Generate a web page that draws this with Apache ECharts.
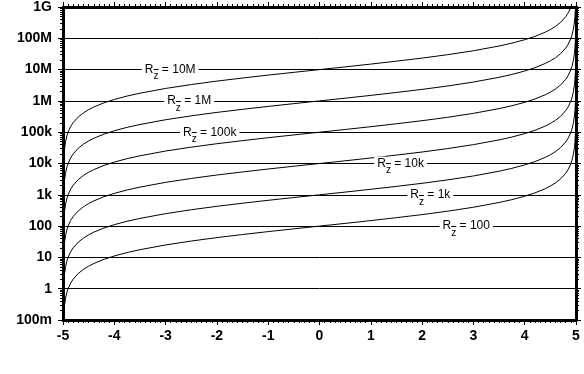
<!DOCTYPE html>
<html>
<head>
<meta charset="utf-8">
<script src="https://cdn.jsdelivr.net/npm/echarts@6/dist/echarts.min.js"></script>
<style>
  html, body { margin: 0; padding: 0; background: #fff; }
  #chart { width: 584px; height: 374px; }
</style>
</head>
<body>
<div id="chart"></div>
<script>
// x positions (shared by every curve)
const xs = [-4.995, -4.99, -4.98, -4.97, -4.95, -4.92, -4.9, -4.85, -4.8, -4.7,
  -4.6, -4.5, -4.4, -4.2, -4, -3.75, -3.5, -3, -2.5, -2,
  -1.5, -1, -0.5, 0, 0.5, 1, 1.5, 2, 2.5, 3,
  3.5, 3.75, 4, 4.2, 4.4, 4.5, 4.6, 4.7, 4.8, 4.85,
  4.9, 4.92, 4.95, 4.97, 4.98, 4.99, 4.995];

// curve values (ohms)
const rz100 = [0.05, 0.1, 0.2, 0.301, 0.503, 0.806, 1.01, 1.52, 2.04, 3.09,
  4.17, 5.26, 6.38, 8.7, 11.1, 14.3, 17.6, 25, 33.3, 42.9,
  53.8, 66.7, 81.8, 100, 122, 150, 186, 233, 300, 400,
  567, 700, 900, 1150, 1570, 1900, 2400, 3230, 4900, 6570,
  9900, 12400, 19900, 33200, 49900, 99900, 199900];
const rz1k = [0.5, 1, 2, 3.01, 5.03, 8.06, 10.1, 15.2, 20.4, 30.9,
  41.7, 52.6, 63.8, 87, 111, 143, 176, 250, 333, 429,
  538, 667, 818, 1000, 1220, 1500, 1860, 2330, 3000, 4000,
  5670, 7000, 9000, 11500, 15700, 19000, 24000, 32300, 49000, 65700,
  99000, 124000, 199000, 332000, 499000, 999000, 1999000];
const rz10k = [5, 10, 20, 30.1, 50.3, 80.6, 101, 152, 204, 309,
  417, 526, 638, 870, 1110, 1430, 1760, 2500, 3330, 4290,
  5380, 6670, 8180, 10000, 12200, 15000, 18600, 23300, 30000, 40000,
  56700, 70000, 90000, 115000, 157000, 190000, 240000, 323000, 490000, 657000,
  990000, 1240000, 1990000, 3320000, 4990000, 9990000, 19990000];
const rz100k = [50, 100, 200, 301, 503, 806, 1010, 1520, 2040, 3090,
  4170, 5260, 6380, 8700, 11100, 14300, 17600, 25000, 33300, 42900,
  53800, 66700, 81800, 100000, 122000, 150000, 186000, 233000, 300000, 400000,
  567000, 700000, 900000, 1150000, 1570000, 1900000, 2400000, 3230000, 4900000, 6570000,
  9900000, 12400000, 19900000, 33200000, 49900000, 99900000, 199900000];
const rz1M = [500, 1000, 2000, 3010, 5030, 8060, 10100, 15200, 20400, 30900,
  41700, 52600, 63800, 87000, 111000, 143000, 176000, 250000, 333000, 429000,
  538000, 667000, 818000, 1e6, 1.22e6, 1.5e6, 1.86e6, 2.33e6, 3e6, 4e6,
  5.67e6, 7e6, 9e6, 1.15e7, 1.57e7, 1.9e7, 2.4e7, 3.23e7, 4.9e7, 6.57e7,
  9.9e7, 1.24e8, 1.99e8, 3.32e8, 4.99e8, 9.99e8, 2e9];
const rz10M = [5e3, 1e4, 2e4, 3.01e4, 5.03e4, 8.06e4, 1.01e5, 1.52e5, 2.04e5, 3.09e5,
  4.17e5, 5.26e5, 6.38e5, 8.7e5, 1.11e6, 1.43e6, 1.76e6, 2.5e6, 3.33e6, 4.29e6,
  5.38e6, 6.67e6, 8.18e6, 1e7, 1.22e7, 1.5e7, 1.86e7, 2.33e7, 3e7, 4e7,
  5.67e7, 7e7, 9e7, 1.15e8, 1.57e8, 1.9e8, 2.4e8, 3.23e8, 4.9e8, 6.57e8,
  9.9e8, 1.24e9, 1.99e9, 3.32e9, 4.99e9, 9.99e9, 2e10];

// curve labels
const curveNames = ['100', '1k', '10k', '100k', '1M', '10M'];
const curveValues = [rz100, rz1k, rz10k, rz100k, rz1M, rz10M];
const labelX = [2.86, 2.16, 1.58, -2.14, -2.54, -2.91];
const labelY = [100, 1000, 10000, 100000, 1000000, 10000000];

// axis tick labels
const yTickValues = [0.1, 1, 10, 100, 1000, 1e4, 1e5, 1e6, 1e7, 1e8, 1e9];
const yTickLabels = ['100m', '1', '10', '100', '1k', '10k', '100k', '1M', '10M', '100M', '1G'];

const minorY = [];
for (let d = -1; d < 9; d++) {
  for (let m = 2; m <= 9; m++) minorY.push(m * Math.pow(10, d));
}

const FONT = '"Liberation Sans", Arial, Helvetica, sans-serif';

function yLabel(v) {
  const i = Math.round(Math.log10(v)) + 1;
  return yTickLabels[i] !== undefined ? yTickLabels[i] : '';
}

const axisLineStyle = { color: '#000', width: 3 };

function yAxisBase(pos, showLabel, major) {
  return {
    type: 'log', position: pos, min: 0.1, max: 1e9, logBase: 10,
    interval: 1,
    axisLine: { show: major, onZero: false, lineStyle: axisLineStyle },
    axisTick: major
      ? { show: true, length: 5, lineStyle: { color: '#000', width: 1 }, customValues: yTickValues }
      : { show: true, length: 3, lineStyle: { color: '#000', width: 1 }, customValues: minorY },
    axisLabel: showLabel
      ? { show: true, formatter: yLabel, color: '#000', fontFamily: FONT, fontWeight: 'bold', fontSize: 14, margin: 11, customValues: yTickValues }
      : { show: false },
    splitLine: (showLabel) ? { show: true, lineStyle: { color: '#000', width: 1 } } : { show: false },
    minorTick: { show: false },
    minorSplitLine: { show: false }
  };
}

function xAxisBase(pos, showLabel) {
  return {
    type: 'value', position: pos, min: -5, max: 5, interval: 1,
    axisLine: { show: true, onZero: false, lineStyle: axisLineStyle },
    axisTick: { show: true, length: 5, lineStyle: { color: '#000', width: 1 } },
    minorTick: { show: true, splitNumber: 10, length: 3, lineStyle: { color: '#000', width: 1 } },
    axisLabel: showLabel
      ? { show: true, color: '#000', fontFamily: FONT, fontWeight: 'bold', fontSize: 14, margin: 9 }
      : { show: false },
    splitLine: { show: false }
  };
}

const series = curveValues.map((vals, k) => ({
  type: 'line',
  xAxisIndex: 0,
  yAxisIndex: 0,
  showSymbol: false,
  symbol: 'none',
  smooth: false,
  clip: true,
  lineStyle: { color: '#000', width: 1 },
  data: xs.map((x, i) => [x, vals[i]]),
  markPoint: {
    symbol: 'circle',
    symbolSize: 0,
    itemStyle: { color: 'transparent' },
    label: {
      show: true,
      position: 'inside',
      formatter: '{r|R}{s|z}{t| = ' + curveNames[k] + '}',
      rich: {
        r: { fontFamily: FONT, fontSize: 12, color: '#000', backgroundColor: '#fff', padding: [1, 0, 1, 3], lineHeight: 12 },
        s: { fontFamily: FONT, fontSize: 10, color: '#000', padding: [14, 0, 0, 0], lineHeight: 10 },
        t: { fontFamily: FONT, fontSize: 12, color: '#000', backgroundColor: '#fff', padding: [1, 3, 1, 0], lineHeight: 12 }
      }
    },
    data: [{ coord: [labelX[k], labelY[k]] }]
  }
}));

const chart = echarts.init(document.getElementById('chart'), null, { renderer: 'canvas' });
chart.setOption({
  animation: false,
  backgroundColor: '#fff',
  grid: { left: 63, right: 8, top: 5, bottom: 54, containLabel: false },
  xAxis: [xAxisBase('bottom', true), xAxisBase('top', false)],
  yAxis: [
    yAxisBase('left', true, true),
    yAxisBase('left', false, false),
    yAxisBase('right', false, true),
    yAxisBase('right', false, false)
  ],
  series: series
});
</script>
</body>
</html>
